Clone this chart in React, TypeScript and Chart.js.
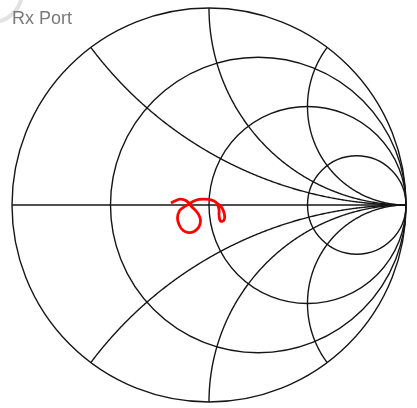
import React, { useEffect, useRef } from "react";
import { Chart, registerables } from "chart.js";

Chart.register(...registerables);

const TITLE = "Rx Port";

// Smith chart grid values (normalised resistance circles and reactance arcs)
const resistanceCircles = [0, 1 / 3, 1, 3];
const reactanceArcs = [0.5, 1, 2];

// Reflection coefficient trace (real / imaginary parts)
const gammaRe = [
  -0.193, -0.173, -0.147, -0.122, -0.107, -0.091, -0.071, -0.051, -0.043, -0.053,
  -0.076, -0.102, -0.130, -0.150, -0.160, -0.150, -0.127, -0.102, -0.076, -0.051,
  -0.025, 0.0, 0.025, 0.046, 0.066, 0.078, 0.078, 0.066, 0.056, 0.051,
  0.051, 0.046, 0.041,
];
const gammaIm = [
  0.010, 0.020, 0.030, 0.025, 0.015, -0.005, -0.025, -0.051, -0.081, -0.114,
  -0.134, -0.140, -0.130, -0.104, -0.066, -0.030, -0.010, 0.005, 0.020, 0.028,
  0.030, 0.028, 0.020, 0.005, -0.015, -0.046, -0.073, -0.083, -0.078, -0.051,
  -0.025, -0.005, 0.005,
];

const smithGrid = {
  id: "smithGrid",
  beforeDatasetsDraw(chart: any) {
    const { ctx } = chart;
    const xs = chart.scales.x;
    const ys = chart.scales.y;
    const px = (v: number) => xs.getPixelForValue(v);
    const py = (v: number) => ys.getPixelForValue(v);
    ctx.save();
    ctx.strokeStyle = "#161616";
    ctx.lineWidth = 1.4;

    for (const r of resistanceCircles) {
      const c = r / (r + 1);
      const rad = 1 / (r + 1);
      ctx.beginPath();
      ctx.ellipse(
        px(c),
        py(0),
        Math.abs(px(c + rad) - px(c)),
        Math.abs(py(rad) - py(0)),
        0,
        0,
        Math.PI * 2
      );
      ctx.stroke();
    }

    ctx.beginPath();
    ctx.moveTo(px(-1), py(0));
    ctx.lineTo(px(1), py(0));
    ctx.stroke();

    for (const xv of reactanceArcs) {
      for (const sgn of [1, -1]) {
        const X = xv * sgn;
        ctx.beginPath();
        const N = 400;
        for (let i = 0; i < N; i++) {
          const r = Math.tan((i / N) * (Math.PI / 2));
          const d = (r + 1) * (r + 1) + X * X;
          const gr = (r * r + X * X - 1) / d;
          const gi = (2 * X) / d;
          if (i === 0) ctx.moveTo(px(gr), py(gi));
          else ctx.lineTo(px(gr), py(gi));
        }
        ctx.lineTo(px(1), py(0));
        ctx.stroke();
      }
    }
    ctx.restore();
  },
  afterDraw(chart: any) {
    const { ctx } = chart;
    ctx.save();
    // faint decorative arc in the corner
    ctx.strokeStyle = "#e2e2e2";
    ctx.lineWidth = 4;
    ctx.beginPath();
    ctx.arc(-8, -8, 30, 0, Math.PI / 2);
    ctx.stroke();
    ctx.fillStyle = "#7a7a7a";
    ctx.font = "18px 'Liberation Sans', Arial, sans-serif";
    ctx.textBaseline = "alphabetic";
    ctx.fillText(TITLE, 12, 24);
    ctx.restore();
  },
};

export default function App() {
  const ref = useRef<HTMLCanvasElement | null>(null);
  useEffect(() => {
    if (!ref.current) return;
    const data = gammaRe.map((g, i) => ({ x: g, y: gammaIm[i] }));
    const chart = new Chart(ref.current, {
      type: "scatter",
      data: {
        datasets: [
          {
            label: TITLE,
            data,
            showLine: true,
            borderColor: "#ff0000",
            backgroundColor: "#ff0000",
            borderWidth: 2.8,
            pointRadius: 0,
            tension: 0.4,
            fill: false,
          },
        ],
      },
      options: {
        animation: false,
        responsive: false,
        layout: { padding: { left: 12, right: 11, top: 8, bottom: 6 } },
        plugins: { legend: { display: false }, tooltip: { enabled: false }, title: { display: false } },
        scales: {
          x: { type: "linear", min: -1, max: 1, display: false },
          y: { type: "linear", min: -1, max: 1, display: false },
        },
      },
      plugins: [smithGrid],
    });
    return () => chart.destroy();
  }, []);
  return (
    <div style={{ position: "fixed", left: 0, top: 0, width: 417, height: 408, background: "#fff" }}>
      <canvas ref={ref} width={417} height={408} />
    </div>
  );
}
